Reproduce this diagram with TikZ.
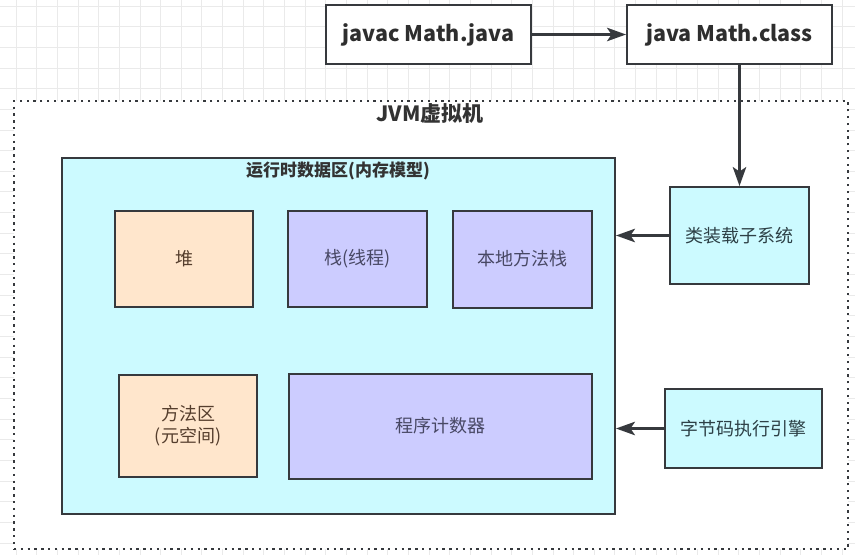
\documentclass[tikz,border=0pt]{standalone}
\usepackage{fontspec}
\setmainfont{Noto Sans CJK SC}
\definecolor{edgegray}{RGB}{54, 57, 61}
\definecolor{gridgray}{RGB}{234, 234, 234}
\definecolor{areacyan}{RGB}{204, 250, 255}
\definecolor{heappeach}{RGB}{255, 230, 204}
\definecolor{stackblue}{RGB}{204, 204, 255}
\definecolor{heaptext}{RGB}{85, 62, 45}
\definecolor{stacktext}{RGB}{72, 72, 100}
\definecolor{cyantext}{RGB}{45, 64, 70}
\usetikzlibrary{arrows.meta, positioning}

\tikzset{
  cmdbox/.style={draw=edgegray, line width=2pt, fill=white, minimum width=205pt, minimum height=59pt,
    font=\fontsize{21.5}{26}\selectfont\bfseries, text=black!82},
  heapbox/.style={draw=edgegray, line width=2pt, fill=heappeach, text=heaptext,
    font=\fontsize{18}{22}\selectfont, align=center},
  stackbox/.style={draw=edgegray, line width=2pt, fill=stackblue, text=stacktext,
    font=\fontsize{18}{22}\selectfont, align=center},
  subsys/.style={draw=edgegray, line width=2pt, fill=areacyan, text=cyantext,
    font=\fontsize{18}{22}\selectfont},
  flow/.style={-{Stealth[length=19pt, width=13.5pt, inset=4.5pt]}, line width=2.2pt, draw=edgegray}
}

\begin{document}
\begin{tikzpicture}[x=1pt, y=-1pt, inner sep=0pt]
  \useasboundingbox (0,0) rectangle (855,555);
  % background grid
  \foreach \gx in {0,...,41} \draw[gridgray, line width=0.8pt] (16+\gx*20.65,0) -- ++(0,555);
  \foreach \gy in {0,...,26} \draw[gridgray, line width=0.8pt] (0,6+\gy*20.65) -- ++(855,0);

  % commands
  \node[cmdbox] (javac) at (428.5,34.5) {javac Math.java};
  \node[cmdbox, right=94pt of javac] (java) {java Math.class};

  % jvm
  \node[draw=edgegray, line width=2.3pt, dash pattern=on 2.3pt off 4.5pt, fill=white,
    minimum width=834pt, minimum height=448pt] (jvm) at (431,325) {};
  \node[font=\fontsize{21}{25}\selectfont\bfseries, text=black!80] (jvmlabel) at (430,114) {JVM虚拟机};

  \node[draw=edgegray, line width=2pt, fill=areacyan, minimum width=553pt, minimum height=356pt] (runtime) at (338.5,336) {};
  \node[font=\fontsize{17}{20}\selectfont\bfseries, text=black!80] (rtitle) at (338,171) {运行时数据区(内存模型)};

  \node[heapbox, minimum width=138pt, minimum height=96pt] (heap) at (184,259) {堆};
  \node[stackbox, minimum width=139pt, minimum height=96pt, right=33pt of heap] (stack) {栈(线程)};
  \node[stackbox, minimum width=139pt, minimum height=97pt, right=24pt of stack] (native) {本地方法栈};
  \node[heapbox, minimum width=138pt, minimum height=102pt] (method) at (188,426) {方法区\\(元空间)};
  \node[stackbox, minimum width=303pt, minimum height=105pt, right=30pt of method] (counter) {程序计数器};

  \node[subsys, minimum width=139pt, minimum height=97pt] (loader) at (739.5,235.5) {类装载子系统};
  \node[subsys, minimum width=157pt, minimum height=79pt] (engine) at (743.5,428.5) {字节码执行引擎};

  \draw[flow] (javac) -- (java);
  \draw[flow] (java.south -| loader.north) -- (loader.north);
  \draw[flow] (loader.west) -- (loader.west -| runtime.east);
  \draw[flow] (engine.west) -- (engine.west -| runtime.east);
\end{tikzpicture}
\end{document}
